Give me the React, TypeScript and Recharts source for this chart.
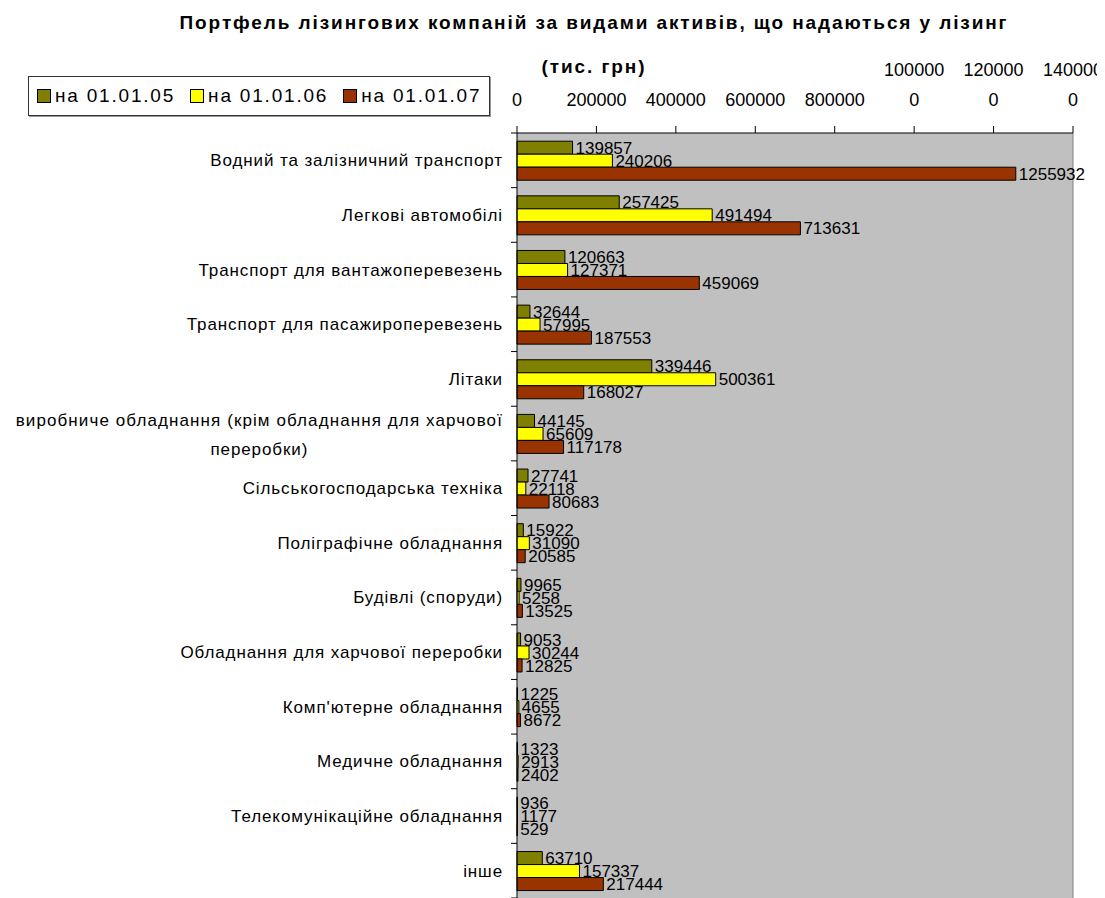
import { useLayoutEffect, useRef, useState } from "react";
import {
  BarChart, Bar, XAxis, YAxis, CartesianGrid, Legend, LabelList, ReferenceLine,
} from "recharts";

// Asset classes, top to bottom; "\n" marks where the original label wraps.
const categories = [
  "Водний та залізничний транспорт",
  "Легкові автомобілі",
  "Транспорт для вантажоперевезень",
  "Транспорт для пасажироперевезень",
  "Літаки",
  "виробниче обладнання (крім обладнання для харчової\nпереробки)",
  "Сільськогосподарська техніка",
  "Поліграфічне обладнання",
  "Будівлі (споруди)",
  "Обладнання для харчової переробки",
  "Комп'ютерне обладнання",
  "Медичне обладнання",
  "Телекомунікаційне обладнання",
  "інше",
];

// тис. грн
const on010105 = [139857, 257425, 120663, 32644, 339446, 44145, 27741, 15922, 9965, 9053, 1225, 1323, 936, 63710];
const on010106 = [240206, 491494, 127371, 57995, 500361, 65609, 22118, 31090, 5258, 30244, 4655, 2913, 1177, 157337];
const on010107 = [1255932, 713631, 459069, 187553, 168027, 117178, 80683, 20585, 13525, 12825, 8672, 2402, 529, 217444];

const xTicks = [0, 200000, 400000, 600000, 800000, 1000000, 1200000, 1400000];

const seriesDefs = [
  { key: "a", name: "на 01.01.05", color: "#808000" },
  { key: "b", name: "на 01.01.06", color: "#ffff00" },
  { key: "c", name: "на 01.01.07", color: "#993300" },
];

const FONT = "'Liberation Sans', Arial, sans-serif";
const W = 1089;
const H = 890;
const PLOT_TOP = 125;
const BAND = (H - PLOT_TOP) / categories.length;

const rows = categories.map((name, i) => ({
  name, a: on010105[i], b: on010106[i], c: on010107[i],
}));

// Excel squeezed the 7-digit ticks into a 6-char column, so they wrap upward.
function ValueTick({ x, y, payload }: any) {
  const s = String(payload.value);
  const lines = s.length > 6 ? [s.slice(0, 6), s.slice(6)] : [s];
  return (
    <g>
      {lines.map((ln, i) => (
        <text
          key={i} x={x} y={y - 18 - (lines.length - 1 - i) * 30} textAnchor="middle"
          fontFamily={FONT} fontSize={18} fill="#000"
        >
          {ln}
        </text>
      ))}
    </g>
  );
}

const catText = { fontFamily: FONT, fontSize: 17, letterSpacing: 0.9, fill: "#000" };

// Right-aligned category labels; wrapped lines are centred on the widest one.
// Also draws the Excel-style tick marks at band boundaries.
function CategoryTick({ x, y, payload, index }: any) {
  const lines = String(payload.value).split("\n");
  const ref = useRef<SVGTextElement>(null);
  const [w, setW] = useState(0);
  useLayoutEffect(() => {
    if (ref.current && lines.length > 1) setW(ref.current.getBBox().width);
  }, [payload.value]);
  const right = x - 6;
  const axisX = x + 8;
  const last = index === categories.length - 1;
  return (
    <g>
      <line x1={axisX - 6} x2={axisX} y1={y - BAND / 2} y2={y - BAND / 2} stroke="#000" />
      {last ? <line x1={axisX - 6} x2={axisX} y1={y + BAND / 2} y2={y + BAND / 2} stroke="#000" /> : null}
      {lines.length === 1 ? (
        <text x={right} y={y + 6} textAnchor="end" {...catText}>
          {lines[0]}
        </text>
      ) : (
        <g>
          <text ref={ref} x={right} y={y - 8} textAnchor="end" {...catText} letterSpacing={1.1}>
            {lines[0]}
          </text>
          {lines.slice(1).map((ln, i) => (
            <text key={i} x={right - w / 2} y={y - 8 + 29 * (i + 1)} textAnchor="middle" {...catText}>
              {ln}
            </text>
          ))}
        </g>
      )}
    </g>
  );
}

function LegendBox() {
  return (
    <div
      style={{
        display: "flex", alignItems: "center", gap: 15, border: "1.5px solid #333",
        padding: "8px 8px", fontFamily: FONT, fontSize: 19, letterSpacing: 1.8,
        color: "#000", background: "#fff", boxShadow: "1px 1px 0 #999", whiteSpace: "nowrap",
      }}
    >
      {seriesDefs.map((s) => (
        <span key={s.key} style={{ display: "inline-flex", alignItems: "center", gap: 4 }}>
          <span style={{ width: 12, height: 12, background: s.color, border: "1px solid #000", display: "inline-block" }} />
          {s.name}
        </span>
      ))}
    </div>
  );
}

export default function App() {
  return (
    <div style={{ position: "relative", width: W, height: H, fontFamily: FONT }}>
      <BarChart
        width={W} height={H} data={rows} layout="vertical"
        margin={{ top: PLOT_TOP - 60, right: 24, bottom: 0, left: 0 }}
        barCategoryGap="15%" barGap={0}
      >
        <CartesianGrid fill="#c0c0c0" horizontal={false} vertical={false} />
        <XAxis
          type="number" orientation="top" domain={[0, 1400000]} ticks={xTicks} height={60}
          tick={<ValueTick />} tickSize={7} stroke="#000" interval={0}
        />
        <YAxis
          type="category" dataKey="name" width={509} tick={<CategoryTick />}
          tickLine={false} stroke="#000" interval={0}
        />
        <ReferenceLine x={1400000} stroke="#808080" />
        <Legend
          layout="horizontal" verticalAlign="middle" align="center"
          wrapperStyle={{ left: 20, top: 68, width: "auto" }}
          content={<LegendBox />}
        />
        {seriesDefs.map((s) => (
          <Bar
            key={s.key} dataKey={s.key} name={s.name} fill={s.color}
            stroke="#000" strokeWidth={1} isAnimationActive={false}
          >
            <LabelList dataKey={s.key} position="right" offset={3} fill="#000" fontSize={17} fontFamily={FONT} />
          </Bar>
        ))}
      </BarChart>
      <div
        style={{
          position: "absolute", top: -7, left: 0, width: 1172, textAlign: "center",
          fontWeight: "bold", fontSize: 19, letterSpacing: 1.9, lineHeight: "44px",
        }}
      >
        <div>Портфель лізингових компаній за видами активів, що надаються у лізинг</div>
        <div>(тис. грн)</div>
      </div>
    </div>
  );
}
